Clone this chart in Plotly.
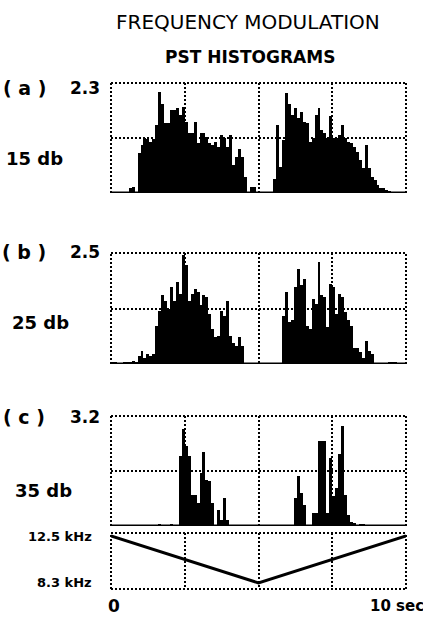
import plotly.graph_objects as go

# ---------------- data ----------------
bin_width = 0.1  # seconds
time_bins = [round(0.05 + 0.1 * i, 2) for i in range(100)]

# panel (a) 15 db, full scale 2.3
hist_a = [0, 0, 0, 0, 0, 0, 0.1, 0.12, 0, 0.83,
          1.0, 1.14, 1.12, 1.07, 1.12, 1.42, 2.12, 1.87, 1.46, 1.46,
          1.74, 1.74, 1.77, 1.63, 1.8, 1.49, 1.25, 1.25, 1.49, 1.04,
          1.25, 1.25, 1.18, 1.04, 1.0, 1.07, 0.97, 1.21, 1.14, 0.97,
          1.21, 0.58, 0.76, 0.93, 0.76, 0.34, 0, 0.13, 0.13, 0,
          0, 0, 0, 0, 0, 0.3, 1.42, 0.55, 1.1, 2.1,
          1.87, 1.63, 1.77, 1.56, 1.7, 1.49, 1.46, 1.07, 1.14, 1.63,
          1.77, 1.32, 1.25, 1.14, 1.6, 1.14, 1.14, 1.21, 1.42, 1.14,
          1.07, 1.04, 0.97, 0.86, 0.69, 0.52, 1.0, 0.52, 0.34, 0.27,
          0.17, 0.1, 0.1, 0.06, 0.03, 0, 0, 0, 0, 0]

# panel (b) 25 db, full scale 2.5
hist_b = [0.03, 0.03, 0, 0.02, 0.03, 0.03, 0.05, 0.07, 0.03, 0.18,
          0.3, 0.14, 0.22, 0.18, 0.22, 0.86, 1.2, 1.55, 1.43, 1.24,
          1.73, 1.43, 1.85, 1.58, 2.45, 2.23, 1.43, 1.58, 1.7, 1.62,
          1.32, 1.55, 1.5, 1.13, 0.79, 0.6, 0.64, 1.2, 1.09, 1.43,
          0.64, 0.48, 0.41, 0.6, 0.41, 0, 0, 0, 0, 0,
          0, 0, 0, 0, 0, 0, 0, 0, 1.09, 1.62,
          0.94, 0.98, 1.73, 2.15, 1.77, 1.92, 0.86, 0.79, 1.47, 1.36,
          2.3, 1.55, 1.5, 0.83, 1.81, 1.73, 1.13, 1.58, 1.5, 1.17,
          1.0, 0.86, 0.37, 0.37, 0.26, 0.14, 0.52, 0.3, 0.22, 0,
          0, 0, 0, 0, 0.03, 0.03, 0.04, 0.02, 0.02, 0.02]

# panel (c) 35 db, full scale 3.2
hist_c = [0, 0, 0, 0, 0, 0, 0, 0, 0, 0,
          0, 0, 0, 0, 0, 0, 0.05, 0, 0, 0,
          0.05, 0, 0, 2.04, 2.83, 2.34, 2.04, 0.91, 0.91, 0.67,
          1.55, 2.14, 1.35, 1.3, 0.67, 0, 0.47, 0.18, 0.81, 0.18,
          0, 0, 0, 0, 0, 0, 0, 0, 0, 0,
          0, 0, 0, 0, 0, 0, 0, 0, 0, 0,
          0, 0, 0.81, 1.45, 0.96, 0.62, 0, 0, 0.37, 0.37,
          2.48, 2.48, 2.48, 0.37, 1.99, 0.86, 1.1, 2.09, 2.92, 0.91,
          0.32, 0.13, 0.08, 0, 0.04, 0.06, 0, 0, 0, 0,
          0, 0, 0, 0, 0, 0, 0, 0, 0, 0]

full_scales = [2.3, 2.5, 3.2]
panel_letters = ["a", "b", "c"]
levels = ["15 db", "25 db", "35 db"]

# FM sweep
sweep_time = [0, 5, 10]
sweep_khz = [12.5, 8.3, 12.5]
freq_labels = ["12.5 kHz", "8.3 kHz"]
time_labels = ["0", "10 sec"]

# ---------------- layout helpers ----------------
W, H = 423, 619
def px(x):
    return x / W
def py(y):
    return 1 - y / H

x_dom = [px(111), px(406)]
y_doms = [[py(193), py(83)], [py(364), py(253)], [py(526), py(416)]]
freq_dom = [py(589), py(533)]

FONT = "DejaVu Sans"
DOT = "2px,2px"

fig = go.Figure()
layout = dict(width=W, height=H, margin=dict(l=0, r=0, t=0, b=0),
              paper_bgcolor="white", plot_bgcolor="white",
              showlegend=False, bargap=0, shapes=[], annotations=[])

hists = [hist_a, hist_b, hist_c]
for k in range(3):
    n = k + 1
    xa = "x" if n == 1 else f"x{n}"
    ya = "y" if n == 1 else f"y{n}"
    fig.add_trace(go.Bar(x=time_bins, y=hists[k], width=bin_width,
                         marker=dict(color="black", line=dict(width=0)),
                         xaxis=xa, yaxis=ya))
    ymax = full_scales[k]
    layout[f"xaxis{'' if n == 1 else n}"] = dict(
        domain=x_dom, range=[0, 10], anchor=ya,
        tickvals=[2.5, 5, 7.5], showticklabels=False, ticks="",
        showgrid=True, gridcolor="black", gridwidth=2, griddash=DOT,
        zeroline=False, showline=False, fixedrange=True)
    layout[f"yaxis{'' if n == 1 else n}"] = dict(
        domain=y_doms[k], range=[0, ymax], anchor=xa,
        tickvals=[ymax / 2], showticklabels=False, ticks="",
        showgrid=True, gridcolor="black", gridwidth=2, griddash=DOT,
        zeroline=False, showline=False, fixedrange=True)
    xd = f"{xa} domain"
    yd = f"{ya} domain"
    # dotted frame (top, left, right)
    for (x0, y0, x1, y1) in [(0, 1, 1, 1), (0, 0, 0, 1), (1, 0, 1, 1)]:
        layout["shapes"].append(dict(type="line", xref=xd, yref=yd,
                                     x0=x0, y0=y0, x1=x1, y1=y1,
                                     line=dict(color="black", width=2, dash=DOT)))
    # solid baseline
    layout["shapes"].append(dict(type="line", xref=xd, yref=ya,
                                 x0=0, x1=1, y0=0, y1=0,
                                 line=dict(color="black", width=3)))
    # labels
    top_px = [88, 252, 417][k]
    lvl_px = [158, 322, 490][k]
    lvl_x = [34, 40, 43][k]
    layout["annotations"] += [
        dict(text=f"( {panel_letters[k]} )", x=px(24), y=py(top_px), xref="paper", yref="paper",
             showarrow=False, xanchor="center", yanchor="middle",
             font=dict(family=FONT, size=19, color="black", weight="bold")),
        dict(text=str(ymax), x=px(102), y=py(top_px), xref="paper", yref="paper",
             showarrow=False, xanchor="right", yanchor="middle",
             font=dict(family=FONT, size=17, color="black", weight="bold")),
        dict(text=levels[k], x=px(lvl_x), y=py(lvl_px), xref="paper", yref="paper",
             showarrow=False, xanchor="center", yanchor="middle",
             font=dict(family=FONT, size=18, color="black", weight="bold")),
    ]

# frequency sweep panel
fig.add_trace(go.Scatter(x=sweep_time, y=sweep_khz, mode="lines",
                         line=dict(color="black", width=3),
                         xaxis="x4", yaxis="y4"))
layout["xaxis4"] = dict(domain=x_dom, range=[0, 10], anchor="y4",
                        tickvals=[2.5, 5, 7.5], showticklabels=False, ticks="",
                        showgrid=True, gridcolor="black", gridwidth=2, griddash=DOT,
                        zeroline=False, showline=False, fixedrange=True)
layout["yaxis4"] = dict(domain=freq_dom, range=[7.76, 12.77], anchor="x4",
                        showticklabels=False, ticks="", showgrid=False,
                        zeroline=False, showline=False, fixedrange=True)
for (x0, y0, x1, y1) in [(0, 1, 1, 1), (0, 0, 1, 0), (0, 0, 0, 1), (1, 0, 1, 1)]:
    layout["shapes"].append(dict(type="line", xref="x4 domain", yref="y4 domain",
                                 x0=x0, y0=y0, x1=x1, y1=y1,
                                 line=dict(color="black", width=2, dash=DOT)))
for lab, yv in zip(freq_labels, [sweep_khz[0], sweep_khz[1]]):
    layout["annotations"].append(dict(
        text=lab, x=px(94), y=yv, xref="paper", yref="y4",
        showarrow=False, xanchor="right", yanchor="middle",
        font=dict(family=FONT, size=13, color="black", weight="bold")))

layout["annotations"] += [
    dict(text=time_labels[0], x=px(114), y=py(606), xref="paper", yref="paper",
         showarrow=False, xanchor="center", yanchor="middle",
         font=dict(family=FONT, size=17, color="black", weight="bold")),
    dict(text=time_labels[1], x=px(368), y=py(606), xref="paper", yref="paper",
         showarrow=False, xanchor="left", yanchor="middle",
         font=dict(family=FONT, size=15, color="black", weight="bold")),
    dict(text="FREQUENCY MODULATION", x=px(248), y=py(22), xref="paper", yref="paper",
         showarrow=False, xanchor="center", yanchor="middle",
         font=dict(family=FONT, size=20, color="black")),
    dict(text="PST HISTOGRAMS", x=px(250), y=py(57), xref="paper", yref="paper",
         showarrow=False, xanchor="center", yanchor="middle",
         font=dict(family=FONT, size=17, color="black", weight="bold")),
]

fig.update_layout(**layout)
fig.write_html("out.html", config={"displayModeBar": False},
               post_script="document.body.style.margin='0';document.body.style.overflow='hidden';")
